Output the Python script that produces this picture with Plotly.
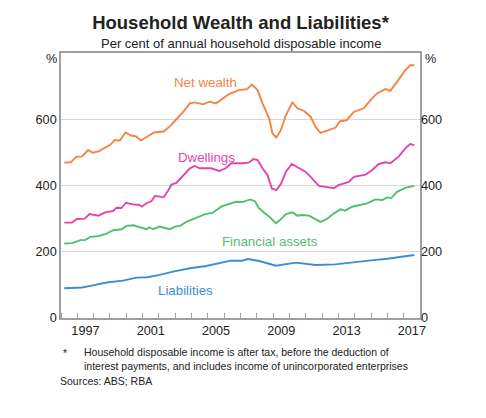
import plotly.graph_objects as go

# ---- Data ----
nw_years = [1996.2, 1996.6, 1996.95, 1997.3, 1997.66, 1997.95, 1998.3, 1998.68, 1999.0, 1999.3,
            1999.6, 1999.95, 2000.3, 2000.6, 2000.9, 2001.3, 2001.7, 2002.3, 2002.7, 2003.07,
            2003.5, 2003.9, 2004.2, 2004.7, 2005.1, 2005.5, 2005.8, 2006.3, 2006.9, 2007.4,
            2007.7, 2008.05, 2008.35, 2008.76, 2008.96, 2009.2, 2009.47, 2009.78, 2010.18, 2010.49,
            2010.9, 2011.3, 2011.6, 2011.9, 2012.4, 2012.83, 2013.1, 2013.5, 2013.94, 2014.55,
            2014.96, 2015.37, 2015.88, 2016.18, 2016.59, 2017.1, 2017.4, 2017.65]
nw_values = [469, 470, 487, 488, 507, 499, 503, 514, 522, 537,
             535, 560, 551, 548, 536, 548, 560, 563, 580, 600,
             623, 648, 651, 645, 653, 648, 658, 676, 688, 691,
             705, 688, 648, 602, 557, 545, 567, 612, 651, 633,
             625, 607, 577, 559, 567, 575, 594, 597, 622, 633,
             658, 678, 691, 686, 713, 748, 763, 763]

dw_years = [1996.2, 1996.67, 1996.97, 1997.45, 1997.75, 1998.3, 1998.7, 1999.2, 1999.4, 1999.7,
            1999.98, 2000.4, 2000.8, 2000.94, 2001.3, 2001.55, 2001.75, 2002.3, 2002.56, 2002.77,
            2003.07, 2003.48, 2003.9, 2004.2, 2004.5, 2005.2, 2005.7, 2006.1, 2006.43, 2007.1,
            2007.5, 2007.8, 2008.05, 2008.35, 2008.66, 2008.92, 2009.2, 2009.47, 2009.78, 2010.14,
            2010.5, 2011.0, 2011.3, 2011.6, 2011.8, 2012.2, 2012.73, 2013.0, 2013.64, 2013.95,
            2014.66, 2015.06, 2015.47, 2015.88, 2016.18, 2016.69, 2017.1, 2017.4, 2017.65]
dw_values = [288, 288, 299, 300, 314, 309, 319, 323, 333, 332,
             348, 343, 341, 336, 348, 353, 368, 365, 384, 403,
             408, 431, 452, 459, 452, 452, 444, 452, 467, 467,
             469, 480, 477, 452, 431, 391, 386, 404, 441, 465,
             455, 441, 426, 411, 399, 396, 392, 401, 411, 426,
             433, 446, 465, 470, 467, 487, 512, 525, 522]

fa_years = [1996.2, 1996.67, 1997.2, 1997.5, 1997.8, 1998.3, 1998.8, 1999.2, 1999.72, 2000.0,
            2000.43, 2000.8, 2001.24, 2001.4, 2001.65, 2002.05, 2002.66, 2003.0, 2003.3, 2003.68,
            2004.3, 2004.8, 2005.3, 2005.82, 2006.22, 2006.73, 2007.1, 2007.6, 2007.9, 2008.1,
            2008.46, 2008.76, 2009.17, 2009.47, 2009.78, 2010.18, 2010.49, 2010.8, 2011.2, 2011.6,
            2011.9, 2012.3, 2012.73, 2013.13, 2013.4, 2013.84, 2014.25, 2014.76, 2015.27, 2015.7,
            2015.98, 2016.24, 2016.59, 2017.1, 2017.65]
fa_values = [225, 226, 235, 236, 245, 247, 255, 265, 268, 278,
             280, 274, 268, 274, 268, 276, 268, 276, 278, 290,
             303, 313, 318, 336, 343, 351, 350, 358, 352, 333,
             318, 306, 286, 298, 314, 319, 309, 311, 309, 299,
             290, 299, 316, 328, 324, 336, 341, 346, 358, 356,
             364, 362, 381, 393, 399]

li_years = [1996.2, 1996.8, 1997.3, 1997.8, 1998.8, 1999.8, 2000.2, 2000.63, 2001.3, 2002.05,
            2002.87, 2003.9, 2004.9, 2005.9, 2006.4, 2007.1, 2007.45, 2008.15, 2009.17, 2010.4,
            2011.6, 2012.8, 2014.05, 2015.0, 2016.0, 2017.1, 2017.65]
li_values = [90, 91, 92, 97, 107, 113, 117, 122, 123, 130,
             140, 150, 157, 167, 173, 173, 178, 172, 158, 167,
             160, 162, 170, 174, 179, 185, 190]

year_labels = ["1997", "2001", "2005", "2009", "2013", "2017"]
year_label_pos = [1997.5, 2001.5, 2005.5, 2009.5, 2013.5, 2017.5]
y_ticks = [0, 200, 400, 600]

FONT = "Liberation Sans, Arial, sans-serif"
C_NW = "#F58345"
C_DW = "#E545A8"
C_FA = "#52BE6E"
C_LI = "#3C8DD4"

# page body has an 8px margin; figure size compensates
W, H = 478, 410

fig = go.Figure()
series = [
    ("Net wealth", nw_years, nw_values, C_NW),
    ("Dwellings", dw_years, dw_values, C_DW),
    ("Financial assets", fa_years, fa_values, C_FA),
    ("Liabilities", li_years, li_values, C_LI),
]
for name, xs, ys, col in series:
    fig.add_trace(go.Scatter(x=xs, y=ys, mode="lines", name=name,
                             line=dict(color=col, width=1.9), showlegend=False))
# invisible trace for right axis
fig.add_trace(go.Scatter(x=[1996, 2018], y=[0, 800], yaxis="y2", mode="lines",
                         line=dict(width=0), showlegend=False, hoverinfo="skip"))

fig.update_layout(
    width=W, height=H,
    margin=dict(l=53, r=66, t=45, b=100),
    paper_bgcolor="white", plot_bgcolor="white",
    font=dict(family=FONT, color="#222222", size=12.7),
    title=dict(text="<b>Household Wealth and Liabilities*</b>", x=0.5, xref="paper",
               xanchor="center", y=1 - 15 / H, yref="container", yanchor="middle",
               font=dict(family=FONT, size=18.5, color="#222222")),
    xaxis=dict(range=[1996, 2018], tickmode="array", tickvals=year_label_pos,
               ticktext=year_labels, ticks="", showgrid=False, zeroline=False,
               showline=True, linecolor="#a0a0a0", linewidth=1.5, mirror=True,
               tickfont=dict(size=12.7, color="#222222"),
               minor=dict(tick0=1996, dtick=1, ticks="inside", ticklen=5,
                          tickcolor="#a0a0a0", tickwidth=1, showgrid=False)),
    yaxis=dict(range=[0, 800], tickmode="array", tickvals=y_ticks, ticks="",
               showgrid=True, gridcolor="#d9d9d9", gridwidth=1.2, zeroline=False,
               showline=True, linecolor="#a0a0a0", linewidth=1.5, mirror=True,
               tickfont=dict(size=12.7, color="#222222")),
    yaxis2=dict(range=[0, 800], overlaying="y", side="right", tickmode="array",
                tickvals=y_ticks, ticks="", showgrid=False, zeroline=False,
                showline=False, tickfont=dict(size=12.7, color="#222222")),
)

ann = []
# subtitle
ann.append(dict(text="Per cent of annual household disposable income", xref="paper", yref="paper",
                x=0.5, y=(318 - 42.7) / 265.3, xanchor="center", yanchor="middle",
                showarrow=False, font=dict(size=13, color="#222222")))
# % units
ann.append(dict(text="%", xref="paper", yref="paper", x=0, y=1, xanchor="right", yanchor="middle",
                xshift=-2, yshift=-6, showarrow=False, font=dict(size=12.7, color="#222222")))
ann.append(dict(text="%", xref="paper", yref="paper", x=1, y=1, xanchor="left", yanchor="middle",
                xshift=3, yshift=-6, showarrow=False, font=dict(size=12.7, color="#222222")))
# series labels
labels = [("Net wealth", 2004.86, 710, C_NW), ("Dwellings", 2004.89, 486, C_DW),
          ("Financial assets", 2008.82, 230, C_FA), ("Liabilities", 2003.6, 82, C_LI)]
for t, lx, ly, col in labels:
    ann.append(dict(text=t, x=lx, y=ly, xref="x", yref="y", showarrow=False,
                    xanchor="center", yanchor="middle", font=dict(size=13.3, color=col)))
# footnotes
ann.append(dict(text="*", xref="paper", yref="paper", x=0, y=(318 - 353) / 265.3,
                xanchor="left", yanchor="middle", showarrow=False,
                font=dict(size=10.5, color="#222222")))
ann.append(dict(text="Household disposable income is after tax, before the deduction of<br>"
                     "interest payments, and includes income of unincorporated enterprises",
                xref="paper", yref="paper", x=(81.5 - 61) / 359, y=(318 - 359.4) / 265.3,
                xanchor="left", yanchor="middle", align="left", showarrow=False,
                font=dict(size=10.5, color="#222222")))
ann.append(dict(text="Sources: ABS; RBA", xref="paper", yref="paper", x=(58 - 61) / 359,
                y=(318 - 381) / 265.3, xanchor="left", yanchor="middle", showarrow=False,
                font=dict(size=10.5, color="#222222")))
fig.update_layout(annotations=ann)

fig.write_html("out.html")
